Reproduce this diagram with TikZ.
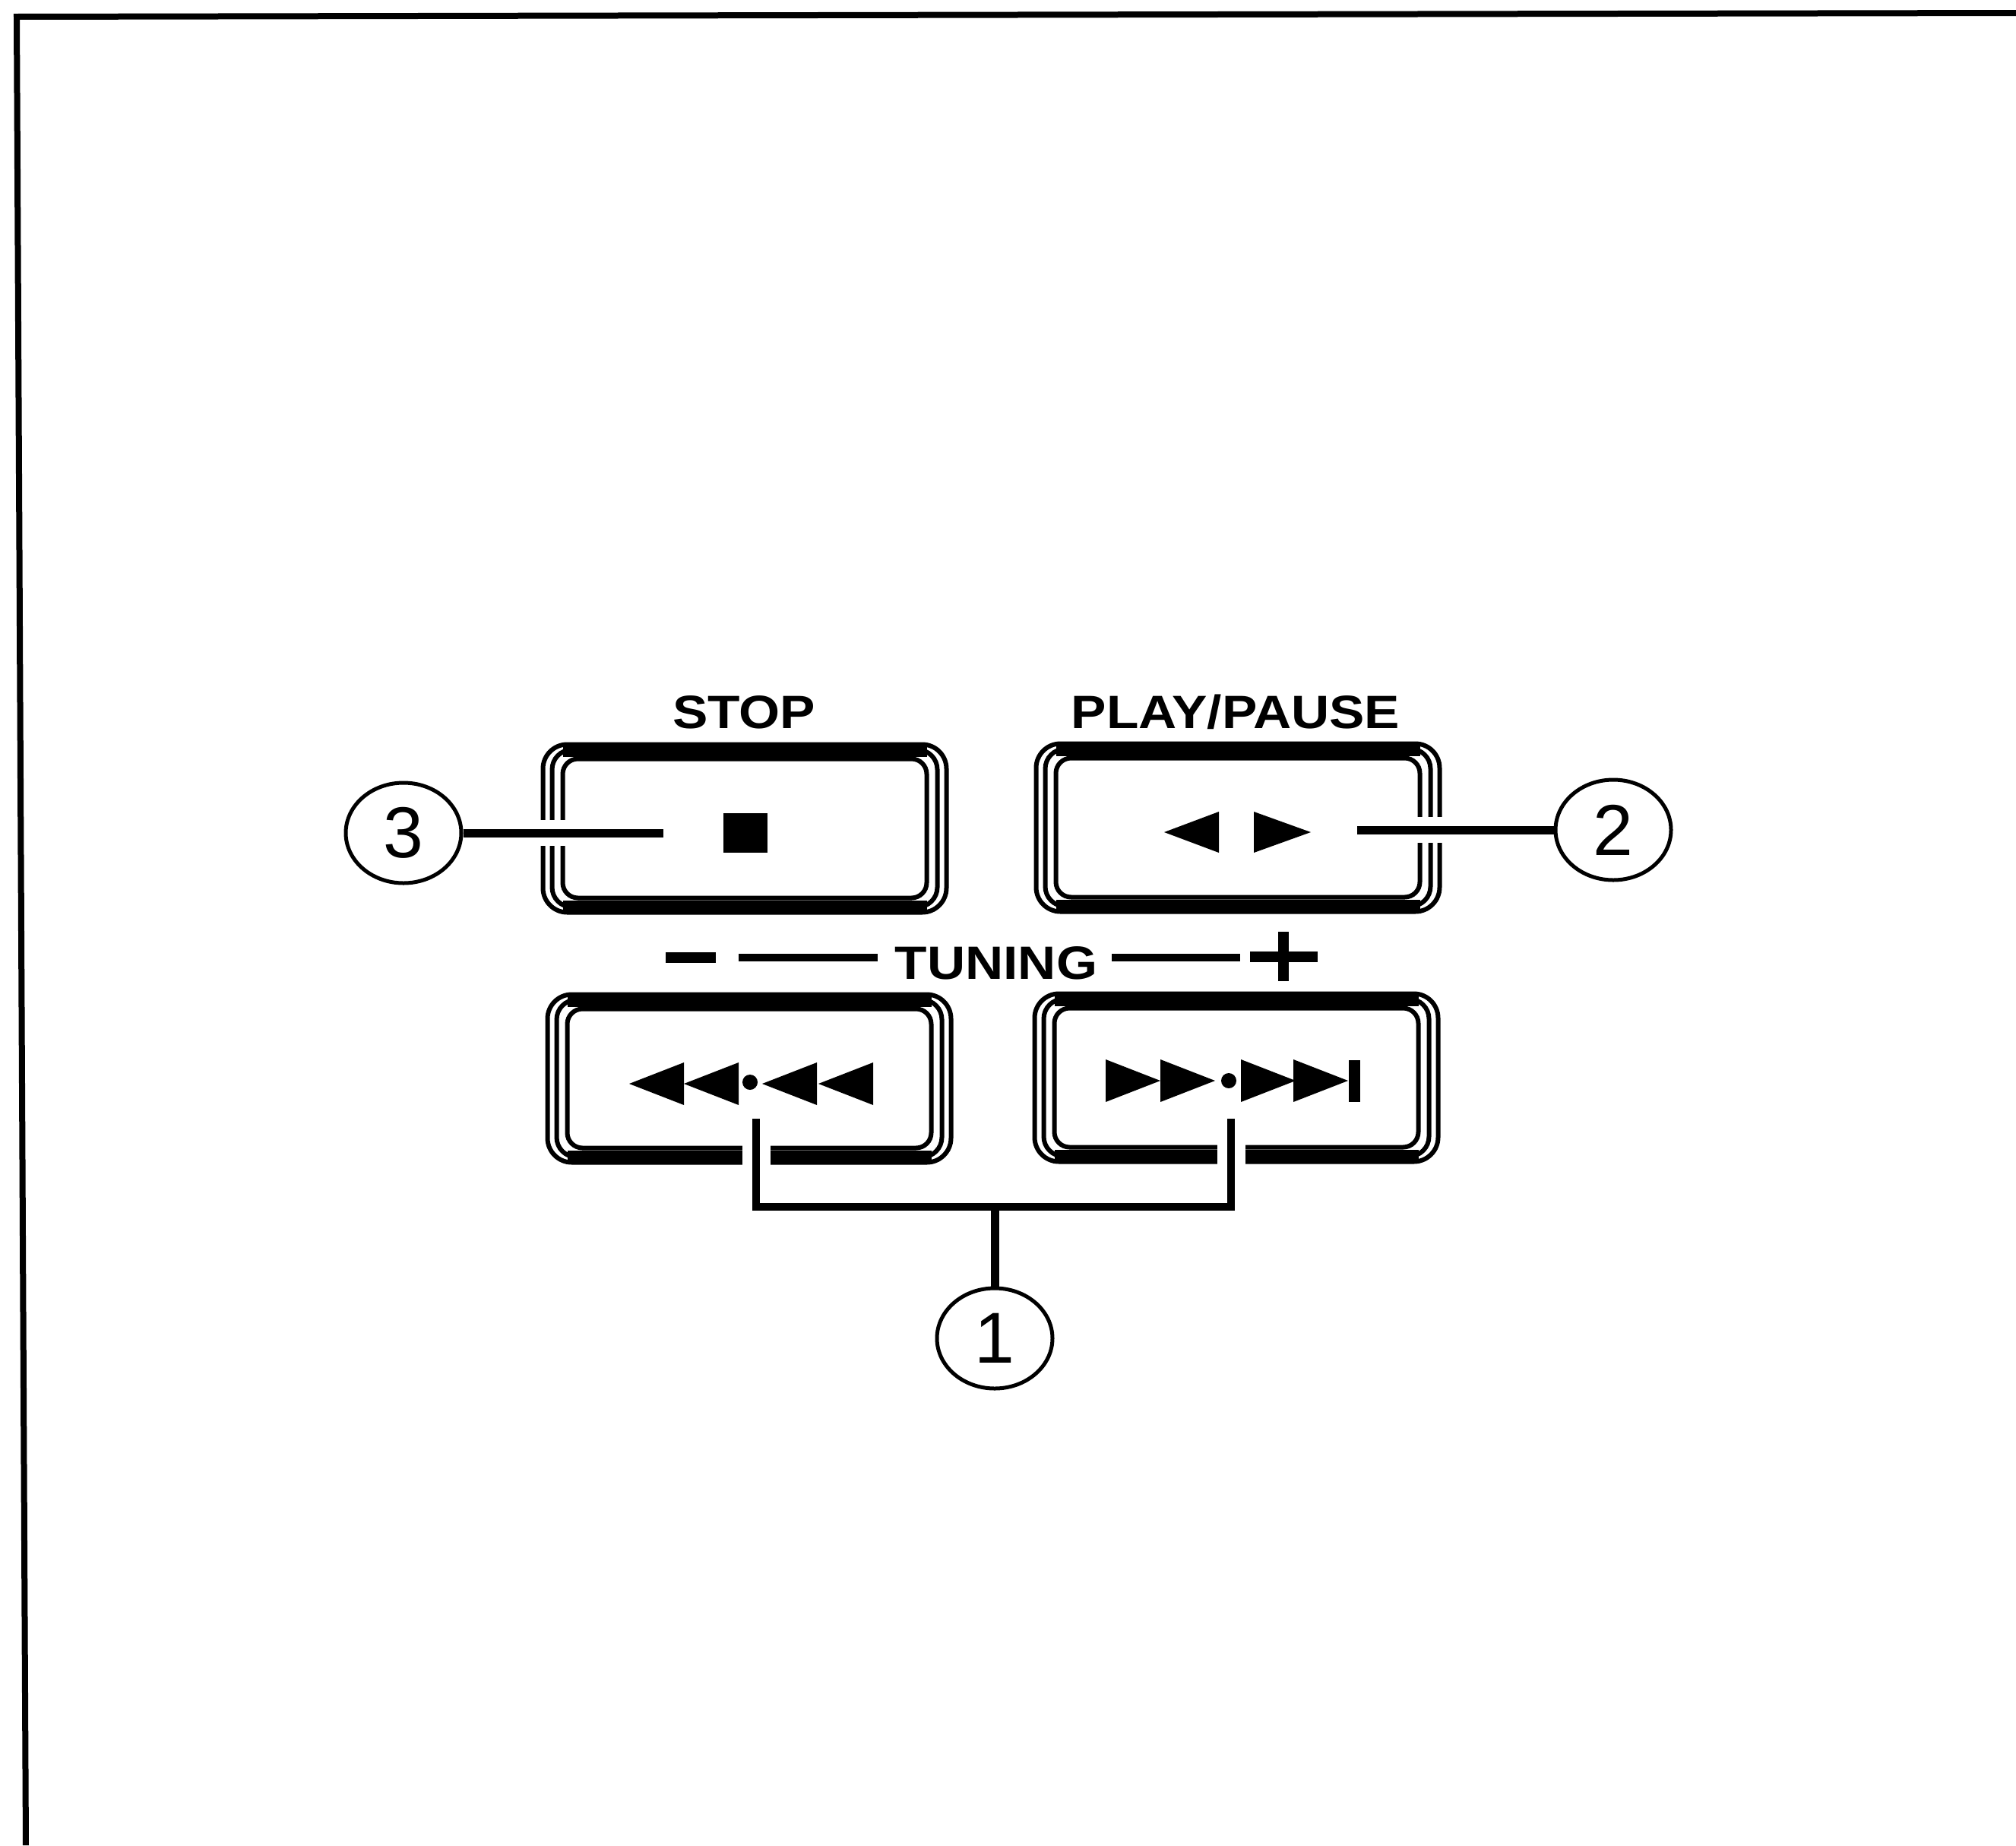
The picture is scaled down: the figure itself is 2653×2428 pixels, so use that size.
\documentclass[tikz,border=0pt]{standalone}
\usepackage{fontspec}
\newfontfamily\panelfont[FakeStretch=1.13]{Liberation Sans}
\newfontfamily\numfont{Liberation Sans}
\usetikzlibrary{shapes.geometric}

\begin{document}
\begin{tikzpicture}[x=0.1mm, y=-0.1mm,
  btn/.style={draw, line width=0.6mm, rounded corners=2mm, minimum width=47.9mm, minimum height=18.3mm, inner sep=0pt},
  num/.style={ellipse, draw, line width=0.5mm, minimum width=15.2mm, minimum height=13.2mm, inner sep=0pt, font=\numfont\fontsize{27}{30}\selectfont},
  lbl/.style={anchor=base, inner sep=0pt, font=\panelfont\bfseries\fontsize{17.5}{20}\selectfont},
  lead/.style={line width=1.1mm},
  halo/.style={draw=white, line width=3.4mm},
  rule/.style={line width=1mm}
]
\useasboundingbox (0,0) rectangle (2653,2428);
% frame
\draw[line width=0.8mm] (2653,17) -- (22,22) -- (34,2428);

% buttons
\node[btn] (stop) at (980,1090) {};
\node[btn] (play) at (1629,1089) {};
\node[btn] (rew) at (986,1419) {};
\node[btn] (ff) at (1627,1418) {};
\foreach \b in {stop,play,rew,ff} {
  \draw[line width=0.6mm, rounded corners=2.6mm] ([shift={(-1.1mm,-0.9mm)}]\b.south west) rectangle ([shift={(1.1mm,0.9mm)}]\b.north east);
  \draw[line width=0.6mm, rounded corners=3.2mm] ([shift={(-2.3mm,-1.6mm)}]\b.south west) rectangle ([shift={(2.3mm,1.6mm)}]\b.north east);
  \fill ([xshift=0.3mm]\b.north west) rectangle ([shift={(-0.3mm,1.6mm)}]\b.north east);
  \fill ([xshift=0.3mm]\b.south west) rectangle ([shift={(-0.3mm,-1.6mm)}]\b.south east);
}

% labels
\node[lbl] (stoplbl) at (979,958) {STOP};
\node[lbl] (playlbl) at (1626,958) {PLAY/PAUSE};
\node[lbl] (tun) at (1311,1288) {TUNING};
\draw[line width=1.4mm] (876,1260) -- (942,1260);
\draw[rule] (972,1260) -- (1155,1260);
\draw[rule] (1463,1260) -- (1632,1260);
\draw[line width=1.4mm] (1645,1259) -- (1734,1259) (1689,1226) -- (1689,1291);

% symbols
\fill (952,1070) rectangle (1010,1122);
\fill (1532,1095) -- (1604,1068) -- (1604,1122) -- cycle;
\fill (1725,1095) -- (1650,1068) -- (1650,1122) -- cycle;
\foreach \x in {828,900,1003,1077}
  \fill (\x,1426) -- ++(72,-28) -- ++(0,56) -- cycle;
\fill (987,1424) circle (1mm);
\foreach \x in {1455,1527,1633,1702}
  \fill (\x,1394) -- ++(72,28) -- ++(-72,28) -- cycle;
\fill (1617,1422) circle (1mm);
\fill (1775,1395) rectangle (1790,1450);

% callouts
\node[num] (c3) at (531,1096) {3};
\node[num] (c2) at (2123,1092) {2};
\node[num] (c1) at (1309,1761) {1};
\coordinate (p3) at (873,1096);
\coordinate (p2) at (1786,1092);
\coordinate (r1) at (995,1472);
\coordinate (f1) at (1620,1472);
\coordinate (j1) at (1309,1588);
\draw[lead, preaction={halo, shorten <=6mm}] (c3) -- (p3);
\draw[lead, preaction={halo, shorten <=6mm}] (c2) -- (p2);
\draw[rule, preaction={halo, line width=3.7mm}] (r1) |- (j1) -| (f1);
\draw[lead] (c1) -- (j1);
\end{tikzpicture}
\end{document}
